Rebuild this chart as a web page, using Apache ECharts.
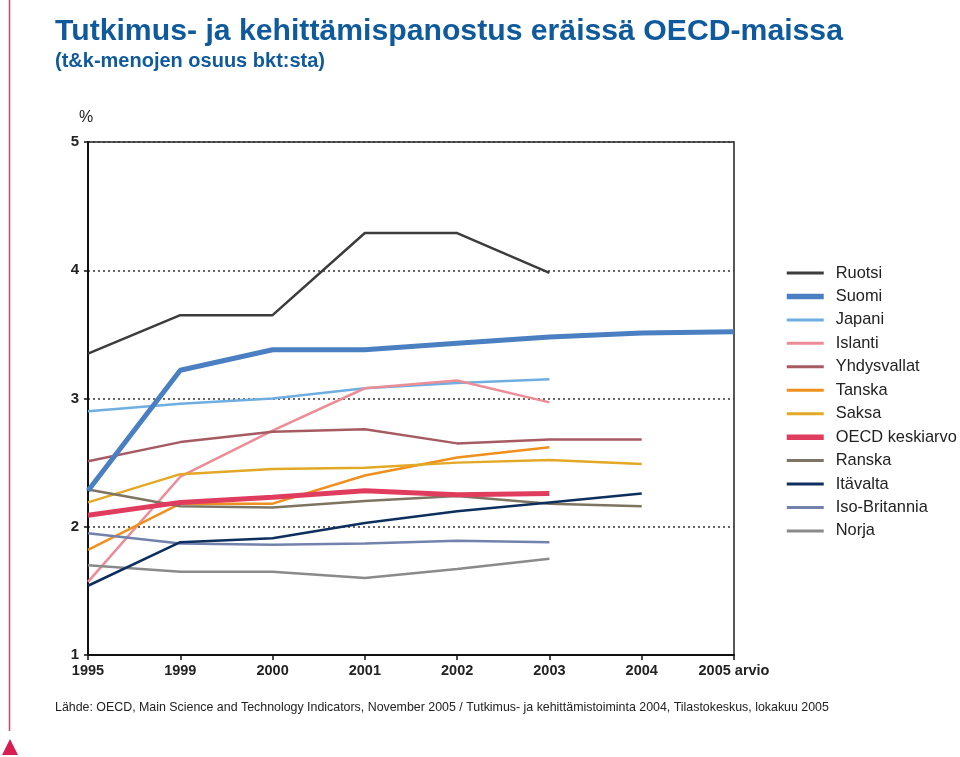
<!DOCTYPE html>
<html><head><meta charset="utf-8">
<script src="https://cdn.jsdelivr.net/npm/echarts@6/dist/echarts.min.js"></script>
<style>html,body{margin:0;padding:0;background:#fff}#c{width:960px;height:757px}</style>
</head><body><div id="c"></div>
<script>
const years = ['1995','1999','2000','2001','2002','2003','2004','2005 arvio'];
const yTicks = [1,2,3,4,5];
const ruotsi      = [3.35, 3.65, 3.65, 4.29, 4.29, 3.98, null, null];
const suomi       = [2.28, 3.22, 3.38, 3.38, 3.43, 3.48, 3.51, 3.52];
const japani      = [2.90, 2.96, 3.00, 3.08, 3.12, 3.15, null, null];
const islanti     = [1.57, 2.39, 2.75, 3.08, 3.14, 2.97, null, null];
const yhdysvallat = [2.51, 2.66, 2.74, 2.76, 2.65, 2.68, 2.68, null];
const tanska      = [1.82, 2.18, 2.18, 2.40, 2.54, 2.62, null, null];
const saksa       = [2.19, 2.41, 2.45, 2.46, 2.50, 2.52, 2.49, null];
const oecd        = [2.09, 2.19, 2.23, 2.28, 2.25, 2.26, null, null];
const ranska      = [2.29, 2.16, 2.15, 2.20, 2.24, 2.18, 2.16, null];
const itavalta    = [1.54, 1.88, 1.91, 2.03, 2.12, 2.19, 2.26, null];
const isoBritannia= [1.95, 1.87, 1.86, 1.87, 1.89, 1.88, null, null];
const norja       = [1.70, 1.65, 1.65, 1.60, 1.67, 1.75, null, null];

const seriesDefs = [
  ['Ruotsi', ruotsi, '#3c3c3c', 2.5, 3],
  ['Suomi', suomi, '#4a7fc1', 5, 10],
  ['Japani', japani, '#6eaee0', 2.5, 3],
  ['Islanti', islanti, '#ec8c96', 2.5, 3],
  ['Yhdysvallat', yhdysvallat, '#a65a62', 2.5, 3],
  ['Tanska', tanska, '#f0901c', 2.5, 3],
  ['Saksa', saksa, '#e2a826', 2.5, 3],
  ['OECD keskiarvo', oecd, '#e03d5e', 5, 9],
  ['Ranska', ranska, '#7d7561', 2.5, 3],
  ['Itävalta', itavalta, '#0d2f5e', 2.5, 4],
  ['Iso-Britannia', isoBritannia, '#7282ad', 2.5, 3],
  ['Norja', norja, '#8a8a8a', 2.5, 3]
];

const chart = echarts.init(document.getElementById('c'), null, {renderer:'canvas'});
const FONT = '"Liberation Sans", Arial, sans-serif';
chart.setOption({
  animation: false,
  backgroundColor: '#fff',
  title: [
    {text: 'Tutkimus- ja kehittämispanostus eräissä OECD-maissa', left: 55, top: 17, padding: 0,
     textStyle: {fontFamily: FONT, fontWeight: 'bold', fontSize: 30.2, color: '#0f5a9c'}},
    {text: '(t&k-menojen osuus bkt:sta)', left: 55, top: 51, padding: 0,
     textStyle: {fontFamily: FONT, fontWeight: 'bold', fontSize: 20, color: '#0f5a9c'}},
    {text: '%', left: 79, top: 110, padding: 0,
     textStyle: {fontFamily: FONT, fontWeight: 'normal', fontSize: 16, color: '#222'}},
    {text: 'Lähde: OECD, Main Science and Technology Indicators, November 2005 / Tutkimus- ja kehittämistoiminta 2004, Tilastokeskus, lokakuu 2005',
     left: 55, top: 702, padding: 0,
     textStyle: {fontFamily: FONT, fontWeight: 'normal', fontSize: 12.4, color: '#222'}}
  ],
  legend: {
    orient: 'vertical', left: 784, top: 265, padding: 0,
    itemWidth: 37, itemHeight: 16, itemGap: 7.45,
    itemStyle: {opacity: 0},
    data: seriesDefs.map(d => ({name: d[0], lineStyle: {width: d[3] + 0.5, color: d[2]}})),
    textStyle: {fontFamily: FONT, fontSize: 16.4, color: '#222', lineHeight: 16, padding: [0,0,0,7]}
  },
  grid: {left: 88, right: 226, top: 142, bottom: 102, show: true, borderColor: '#222', borderWidth: 1.5, backgroundColor: 'transparent'},
  xAxis: {
    type: 'category', data: years, boundaryGap: false,
    axisLine: {lineStyle: {color: '#111', width: 2}},
    axisTick: {show: true, length: 5, lineStyle: {color: '#111', width: 1.5}},
    axisLabel: {fontFamily: FONT, fontWeight: 'bold', fontSize: 14.5, color: '#222', margin: 8},
    splitLine: {show: false}
  },
  yAxis: {
    type: 'value', min: 1, max: 5, interval: 1,
    axisLine: {show: true, lineStyle: {color: '#111', width: 2}},
    axisTick: {show: true, length: 4, lineStyle: {color: '#111', width: 1.5}},
    axisLabel: {fontFamily: FONT, fontWeight: 'bold', fontSize: 15, color: '#222', margin: 9,
      formatter: v => yTicks.includes(v) ? String(v) : ''},
    splitLine: {show: true, lineStyle: {color: '#333', type: [2,3], width: 1.5}}
  },
  series: seriesDefs.map(d => ({
    name: d[0], type: 'line', data: d[1], symbol: 'none', z: d[4],
    connectNulls: false,
    lineStyle: {color: d[2], width: d[3]},
    itemStyle: {color: d[2]}
  })),
  graphic: [
    {type: 'line', shape: {x1: 9.5, y1: 0, x2: 9.5, y2: 731}, style: {stroke: '#c44a72', lineWidth: 1.5}},
    {type: 'polygon', shape: {points: [[10, 739], [2, 755], [18, 755]]}, style: {fill: '#d81e50'}}
  ]
});
</script></body></html>
